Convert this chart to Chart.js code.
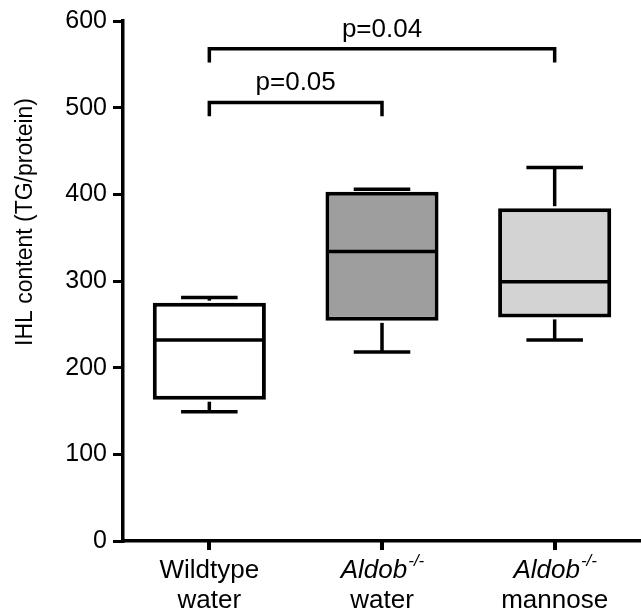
<!DOCTYPE html>
<html lang="en">
<head>
  <meta charset="UTF-8" />
  <title>IHL content</title>
  <script src="https://cdn.jsdelivr.net/npm/chart.js"></script>
  <style>
    html, body { margin: 0; padding: 0; background: #fff; }
    #wrap { width: 641px; height: 615px; position: relative; }
  </style>
</head>
<body>
  <div id="wrap"><canvas id="chartCanvas"></canvas></div>

  <script>
    // groups
    const categories = ["Wildtype water", "Aldob water", "Aldob mannose"];
    const labelTop = ["Wildtype", "Aldob", "Aldob"];
    const labelSup = ["", "-/-", "-/-"];
    const labelBottom = ["water", "water", "mannose"];
    const boxColors = ["#ffffff", "#9e9e9e", "#d3d3d3"];

    // box plot values (TG/protein)
    const minVals = [149, 218, 232];
    const q1Vals = [163, 254, 258];
    const medianVals = [232, 334, 299];
    const q3Vals = [275, 403, 384];
    const maxVals = [281, 406, 431];

    // significance brackets
    const bracketFrom = [0, 0];
    const bracketTo = [1, 2];
    const bracketY = [506, 568];
    const bracketLabels = ["p=0.05", "p=0.04"];

    const yTicks = [0, 100, 200, 300, 400, 500, 600];
    const yTitle = "IHL content (TG/protein)";

    const FONT = "'Liberation Sans', Arial, Helvetica, sans-serif";

    // whiskers, medians, brackets, x labels and y title
    const boxExtras = {
      id: "boxExtras",
      afterDatasetsDraw(chart) {
        const ctx = chart.ctx;
        const x = chart.scales.x;
        const y = chart.scales.y;
        const meta = chart.getDatasetMeta(0);
        ctx.save();
        ctx.strokeStyle = "#000";
        ctx.lineCap = "butt";

        function line(x1, y1, x2, y2) {
          ctx.beginPath();
          ctx.moveTo(x1, y1);
          ctx.lineTo(x2, y2);
          ctx.stroke();
        }

        meta.data.forEach((bar, i) => {
          const cx = bar.x;
          const half = bar.width / 2;
          const cap = bar.width * 0.25;
          ctx.lineWidth = 3.5;
          const yMed = y.getPixelForValue(medianVals[i]);
          line(cx - half + 2, yMed, cx + half - 2, yMed);
          const yQ3 = y.getPixelForValue(q3Vals[i]);
          const yMax = y.getPixelForValue(maxVals[i]);
          line(cx, yQ3 - 2, cx, yMax);
          line(cx - cap, yMax, cx + cap, yMax);
          const yQ1 = y.getPixelForValue(q1Vals[i]);
          const yMin = y.getPixelForValue(minVals[i]);
          line(cx, yQ1 + 2, cx, yMin);
          line(cx - cap, yMin, cx + cap, yMin);
        });

        // brackets
        ctx.lineWidth = 3.5;
        ctx.fillStyle = "#000";
        ctx.font = "26px " + FONT;
        ctx.textAlign = "center";
        ctx.textBaseline = "alphabetic";
        for (let i = 0; i < bracketLabels.length; i++) {
          const x1 = x.getPixelForValue(bracketFrom[i]);
          const x2 = x.getPixelForValue(bracketTo[i]);
          const yl = y.getPixelForValue(bracketY[i]);
          const yd = y.getPixelForValue(bracketY[i] - 16);
          ctx.beginPath();
          ctx.moveTo(x1, yd);
          ctx.lineTo(x1, yl);
          ctx.lineTo(x2, yl);
          ctx.lineTo(x2, yd);
          ctx.stroke();
          ctx.fillText(bracketLabels[i], (x1 + x2) / 2, yl - 12);
        }
        ctx.restore();
      },
      afterDraw(chart) {
        const ctx = chart.ctx;
        const x = chart.scales.x;
        const base = chart.chartArea.bottom;
        ctx.save();

        // x tick marks at the category centres
        ctx.fillStyle = "#000";
        categories.forEach((c, i) => {
          const cx = Math.round(x.getPixelForValue(i));
          ctx.fillRect(cx - 2, base, 4, 9);
        });

        ctx.textBaseline = "alphabetic";
        categories.forEach((c, i) => {
          const cx = x.getPixelForValue(i);
          if (labelSup[i]) {
            ctx.font = "italic 26px " + FONT;
            const w1 = ctx.measureText(labelTop[i]).width;
            ctx.font = "italic 17px " + FONT;
            const w2 = ctx.measureText(labelSup[i]).width;
            const start = cx - (w1 + w2) / 2;
            ctx.textAlign = "left";
            ctx.font = "italic 26px " + FONT;
            ctx.fillText(labelTop[i], start, base + 37);
            ctx.font = "italic 17px " + FONT;
            ctx.fillText(labelSup[i], start + w1 + 1, base + 25);
          } else {
            ctx.textAlign = "center";
            ctx.font = "26px " + FONT;
            ctx.fillText(labelTop[i], cx, base + 37);
          }
          ctx.textAlign = "center";
          ctx.font = "26px " + FONT;
          ctx.fillText(labelBottom[i], cx, base + 67);
        });

        // y axis title
        ctx.translate(26, 222);
        ctx.rotate(-Math.PI / 2);
        ctx.textAlign = "center";
        ctx.textBaseline = "middle";
        ctx.font = "23px " + FONT;
        ctx.fillText(yTitle, 0, 0);
        ctx.restore();
      }
    };

    const ctx = document.getElementById("chartCanvas").getContext("2d");
    const chart = new Chart(ctx, {
      type: "bar",
      data: {
        labels: categories,
        datasets: [{
          label: "IHL content",
          data: q1Vals.map((v, i) => [v, q3Vals[i]]),
          backgroundColor: boxColors,
          borderColor: "#000",
          borderWidth: 4,
          borderSkipped: false,
          barPercentage: 0.655,
          categoryPercentage: 1
        }]
      },
      options: {
        responsive: true,
        maintainAspectRatio: false,
        animation: false,
        layout: { padding: { top: 20, right: 0, bottom: 0, left: 0 } },
        plugins: {
          legend: { display: false },
          tooltip: { enabled: false }
        },
        scales: {
          x: {
            grid: { display: false },
            border: { display: true, color: "#000", width: 3.5 },
            ticks: { display: false },
            afterFit: s => { s.height = 74; }
          },
          y: {
            min: 0,
            max: 600,
            afterBuildTicks: s => { s.ticks = yTicks.map(v => ({ value: v })); },
            grid: { drawOnChartArea: false, drawTicks: true, tickLength: 10, color: "#000", lineWidth: 3 },
            border: { display: true, color: "#000", width: 3.5 },
            ticks: { color: "#000", padding: 6, font: { family: FONT, size: 25 } },
            afterFit: s => { s.width = 123; }
          }
        }
      },
      plugins: [boxExtras]
    });
  </script>
</body>
</html>
